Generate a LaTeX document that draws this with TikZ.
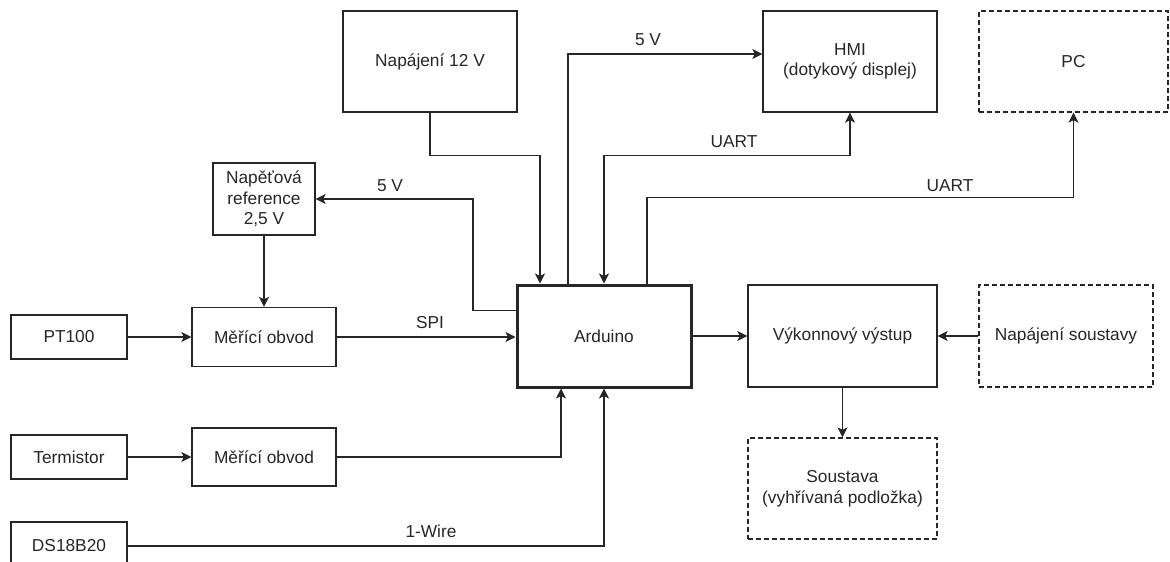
\documentclass[tikz,border=0pt]{standalone}
\usepackage{fontspec}
\setmainfont{Liberation Sans}
\usetikzlibrary{arrows.meta,calc}
\begin{document}
\begin{tikzpicture}[x=1pt,y=-1pt,
  every node/.style={font=\fontsize{17.3}{20.5}\selectfont, text=black!85},
  box/.style={draw=black!85, line width=1.3pt, rectangle, align=center, inner sep=0pt},
  dbox/.style={box, dash pattern=on 5pt off 3pt},
  abox/.style={draw=black!85, line width=3pt, rectangle, align=center, inner sep=0pt},
  conn/.style={draw=black!85, line width=1.3pt, -{Stealth[length=10pt,width=10pt,inset=2.5pt]}},
  bconn/.style={conn, {Stealth[length=10pt,width=10pt,inset=2.5pt]}-{Stealth[length=10pt,width=10pt,inset=2.5pt]}},
  lbl/.style={inner sep=0pt}
]
\useasboundingbox (0,0) rectangle (1170,562);

\node[box, minimum width=174, minimum height=101] (nap12) at (430,61.5) {Napájení 12 V};
\node[box, minimum width=174, minimum height=101] (hmi) at (850,61.5) {HMI\\(dotykový displej)};
\node[dbox, minimum width=189, minimum height=101] (pc) at (1073.5,61.5) {PC};
\node[box, minimum width=102, minimum height=72] (ref) at (264,199) {Napěťová\\reference\\2,5 V};
\node[box, minimum width=116, minimum height=44] (pt100) at (69,337) {PT100};
\node[box, minimum width=144, minimum height=59] (mer1) at (264,337) {Měřící obvod};
\node[box, minimum width=116, minimum height=44] (term) at (69,457) {Termistor};
\node[box, minimum width=144, minimum height=58] (mer2) at (264,457) {Měřící obvod};
\node[box, minimum width=116, minimum height=48] (ds) at (69,546) {DS18B20};
\node[abox, minimum width=174, minimum height=102] (ard) at (604,336) {Arduino};
\node[box, minimum width=189, minimum height=102] (vyk) at (842.5,336) {Výkonnový výstup};
\node[dbox, minimum width=174, minimum height=102] (napsou) at (1066,336) {Napájení soustavy};
\node[dbox, minimum width=189, minimum height=101] (sous) at (842.5,488.5) {Soustava\\(vyhřívaná podložka)};

% connectors
\draw[conn] (nap12.south) -- ++(0,43) -| ([xshift=-64pt]ard.north);
\draw[conn] ([yshift=-27pt]ard.north west) -| (473,199) -- (ref.east);
\draw[conn] ([xshift=-36pt]ard.north) |- ([yshift=7.5pt]hmi.west);
\draw[bconn] (hmi.south) -- ++(0,43) -| (ard.north);
\draw[conn] ([xshift=43pt]ard.north) -- ++(0,-86) -| (pc.south);
\draw[conn] (ref.south) -- (mer1.north);
\draw[conn] (pt100.east) -- (pt100.east -| mer1.west);
\draw[conn] (mer1.east) -- (mer1.east -| ard.west);
\draw[conn] (term.east) -- (term.east -| mer2.west);
\draw[conn] (mer2.east) -| ([xshift=-43pt]ard.south);
\draw[conn] (ds.east) -| (ard.south);
\draw[conn] (ard.east) -- (ard.east -| vyk.west);
\draw[conn] (napsou.west) -- (napsou.west -| vyk.east);
\draw[conn] (vyk.south) -- (sous.north);

% labels
\node[lbl] (l5va) at (390,186) {5 V};
\node[lbl] (l5vb) at (648,40) {5 V};
\node[lbl] (luart1) at (734,142) {UART};
\node[lbl] (luart2) at (950,186) {UART};
\node[lbl] (lspi) at (430,323) {SPI};
\node[lbl] (lwire) at (431,531) {1-Wire};
\end{tikzpicture}
\end{document}
